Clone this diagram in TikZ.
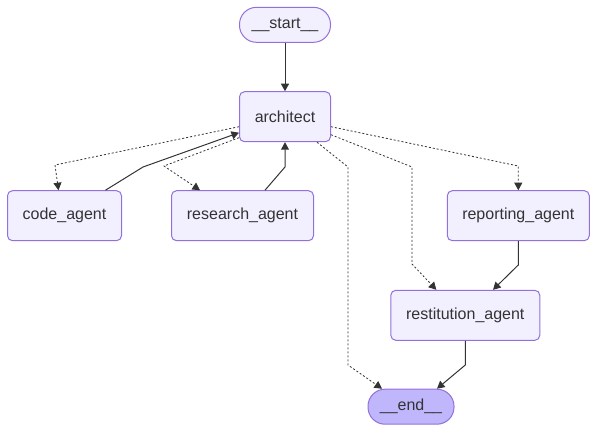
\documentclass[tikz,border=0pt]{standalone}
\usepackage{fontspec}
\setmainfont{Liberation Sans}
\usetikzlibrary{arrows.meta,calc}
\definecolor{nodefill}{HTML}{F2F0FF}
\definecolor{endfill}{HTML}{BFB6FC}
\definecolor{nodeline}{HTML}{9370DB}
\definecolor{edgecol}{HTML}{333333}
\tikzset{
  agent/.style={draw=nodeline, fill=nodefill, line width=1pt, rounded corners=5pt,
    minimum height=50pt, inner sep=0pt, text=edgecol,
    font=\fontsize{16}{19}\selectfont},
  terminal/.style={draw=nodeline, fill=nodefill, line width=1pt, rounded corners=17pt,
    minimum width=91pt, minimum height=35pt, inner sep=0pt, text=edgecol,
    font=\fontsize{16}{19}\selectfont},
  solidedge/.style={draw=edgecol, line width=1pt, -{Triangle[length=7.5pt,width=8pt]}},
  dottededge/.style={draw=edgecol, line width=0.8pt, dash pattern=on 2pt off 2pt,
    -{Triangle[length=7.5pt,width=8pt,fill=edgecol]}}
}
\begin{document}
\begin{tikzpicture}[x=1pt,y=-1pt]
\useasboundingbox (0,0) rectangle (598,432);
\node[terminal] (start) at (285,24.8) {\_\_start\_\_};
\node[agent, minimum width=91pt] (arch) at (285,116.7) {architect};
\node[agent, minimum width=114pt] (code) at (64.5,215.7) {code\_agent};
\node[agent, minimum width=142pt] (research) at (242.5,215.7) {research\_agent};
\node[agent, minimum width=142pt] (report) at (518.3,215.7) {reporting\_agent};
\node[agent, minimum width=149pt] (rest) at (465.3,315.3) {restitution\_agent};
\node[terminal, fill=endfill, minimum width=86pt] (end) at (411,406.7) {\_\_end\_\_};

% start -> architect
\draw[solidedge] (start) -- (arch);
% architect -> code_agent
\draw[dottededge] ([yshift=-10pt]arch.west) -- (55,165) -- ([xshift=-6pt]code.north);
% code_agent -> architect
\draw[solidedge] ([xshift=41pt]code.north) -- (143,167) -- ([yshift=-16pt]arch.west);
% architect -> research_agent
\draw[dottededge] ([yshift=-21pt]arch.west) -- (164,166) -- ([xshift=-42.5pt]research.north);
% research_agent -> architect
\draw[solidedge] ([xshift=22.5pt]research.north) -- (285,167) -- (arch.south);
% architect -> reporting_agent
\draw[dottededge] ([yshift=-10pt]arch.east) -- (518.3,166) -- (report.north);
% architect -> restitution_agent
\draw[dottededge] ([yshift=-18pt]arch.east) -- (412,167) -- (412,264) -- ([xshift=-29pt]rest.north);
% architect -> end
\draw[dottededge] ([xshift=32pt]arch.south) -- (348,167) -- (348,365) -- ([xshift=-29pt]end.north);
% reporting_agent -> restitution_agent
\draw[solidedge] (report.south) -- (518.3,265) -- ([xshift=27.7pt]rest.north);
% restitution_agent -> end
\draw[solidedge] (rest.south) -- (465.3,365) -- ([xshift=26pt]end.north);
\end{tikzpicture}
\end{document}
